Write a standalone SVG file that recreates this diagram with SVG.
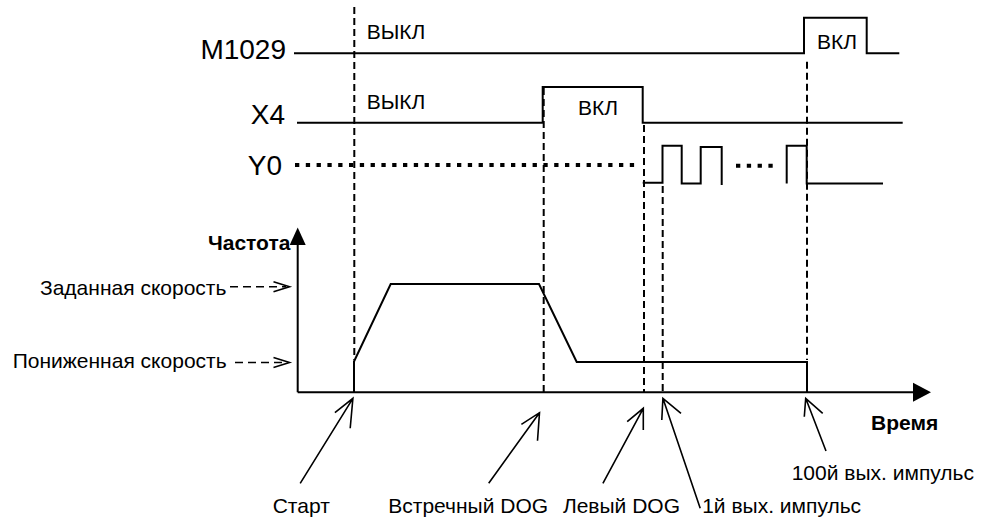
<svg xmlns="http://www.w3.org/2000/svg" width="982" height="519" viewBox="0 0 982 519">
<style>
text{font-family:"Liberation Sans",Arial,sans-serif;fill:#000}
.sig{font-size:28px;text-anchor:end}
.lbl{font-size:21px}
.b{font-size:21px;font-weight:bold}
.w{fill:none;stroke:#000;stroke-width:2}
.dash{fill:none;stroke:#000;stroke-width:2;stroke-dasharray:7 4}
.dot{fill:none;stroke:#000;stroke-width:4;stroke-dasharray:4.3 6.5}
.ptr{fill:none;stroke:#000;stroke-width:1.6;stroke-linejoin:miter}
.ldash{fill:none;stroke:#000;stroke-width:1.6;stroke-dasharray:8 5}
</style>
<rect width="982" height="519" fill="#fff"/>
<g id="signals">
<g id="m1029">
<text class="sig" x="286" y="59">M1029</text>
<path class="w" d="M294,53.3 H804 V17.7 H866.7 V53.3 H899.3"/>
<text class="lbl" x="366.7" y="39.3">ВЫКЛ</text>
<text class="lbl" x="817" y="49">ВКЛ</text>
</g>
<g id="x4">
<text class="sig" x="285" y="124">X4</text>
<path class="w" d="M297,122.7 H542.7 V87 H642.7 V122.7 H902.7"/>
<text class="lbl" x="366.7" y="109">ВЫКЛ</text>
<text class="lbl" x="578" y="115">ВКЛ</text>
</g>
<g id="y0">
<text class="sig" x="282" y="175">Y0</text>
<path class="dot" d="M295,165 H640"/>
<path class="w" d="M642.7,182.7 H662.5 V145.7 H681.7 V183.5 H700.7 V147 H721.7 V185"/>
<path class="dot" d="M736,165.7 H774"/>
<path class="w" d="M786.7,183.5 V145.7 H806.7 V183.5 H883"/>
</g>
</g>
<g id="chart">
<g id="axes">
<path class="w" d="M297.7,392.3 V240 M297.7,392.3 H918"/>
<path d="M289.7,245 L297.7,227.5 L305.7,245 Z" fill="#000"/>
<path d="M913,382.8 L931,392.3 L913,401.8 Z" fill="#000"/>
<text class="b" x="208" y="250">Частота</text>
<text class="b" x="871" y="430">Время</text>
</g>
<g id="speed">
<path class="w" d="M354,392.3 V361.5 L390.7,284 H539 L576.7,362 H807 V392.3"/>
</g>
<g id="set-speed">
<text class="lbl" x="40" y="295">Заданная скорость</text>
<path class="ldash" d="M230,286.7 H286"/>
<path class="ptr" d="M273.5,281.7 L289.5,286.7 L273.5,291.7"/>
</g>
<g id="low-speed">
<text class="lbl" x="12.7" y="368.3">Пониженная скорость</text>
<path class="ldash" d="M235,362.5 H286"/>
<path class="ptr" d="M273.5,357.5 L289.5,362.5 L273.5,367.5"/>
</g>
</g>
<g id="connectors">
<path class="dash" d="M354.3,7 V360"/>
<path class="dash" d="M543.7,88 V392"/>
<path class="dash" d="M644,125 V392"/>
<path class="dash" d="M662.7,186 V392"/>
<path class="dash" d="M807,61.7 V360"/>
<path class="ptr" d="M300.2,483.3 L352.9,398.3 M334.9,412.7 L352.9,398.3 L350.2,428.3"/>
<path class="ptr" d="M488.7,483.3 L539.5,412.7 M521.4,424.3 L539.5,412.7 L537.5,440.7"/>
<path class="ptr" d="M602.9,483.3 L643.3,408.3 M627.2,421.7 L643.3,408.3 L643.3,430"/>
<path class="ptr" d="M700.2,508.3 L662.9,398.3 M681,413.3 L662.9,398.3 L661.8,420"/>
<path class="ptr" d="M826,451 L805.7,398.3 M822.7,413.3 L805.7,398.3 L804.3,416.7"/>
</g>
<g id="labels">
<text class="lbl" x="272.7" y="513.3">Старт</text>
<text class="lbl" x="388.3" y="513.3">Встречный DOG</text>
<text class="lbl" x="562.9" y="513.3">Левый DOG</text>
<text class="lbl" x="702.2" y="513.3">1й вых. импульс</text>
<text class="lbl" x="791.7" y="480">100й вых. импульс</text>
</g>
</svg>
